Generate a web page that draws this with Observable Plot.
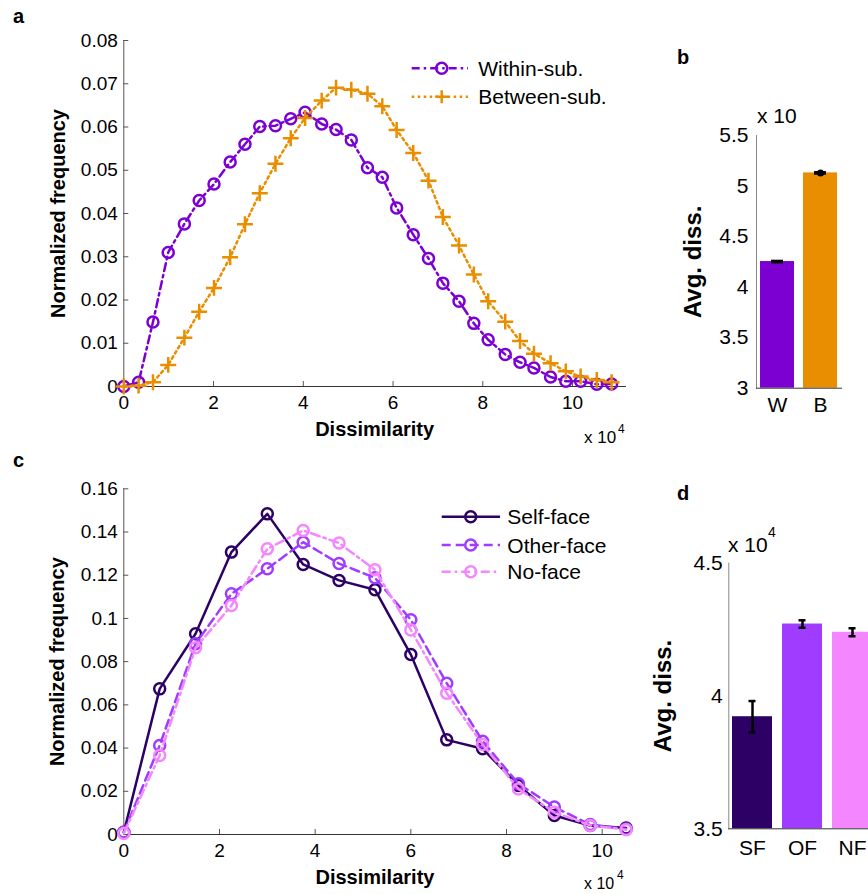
<!DOCTYPE html>
<html><head><meta charset="utf-8">
<script src="https://cdn.jsdelivr.net/npm/d3@7"></script>
<script src="https://cdn.jsdelivr.net/npm/@observablehq/plot@0.6"></script>
<style>
html,body{margin:0;padding:0;background:#fff;overflow:hidden}
#fig{position:relative;width:868px;height:894px;overflow:hidden;background:#fff}
#fig svg{position:absolute}
</style></head><body><div id="fig"></div>
<script>
// ---------- data ----------
// panel a
const aDiss = [0,0.33,0.65,0.99,1.35,1.68,2.01,2.37,2.70,3.03,3.38,3.72,4.04,4.41,4.73,5.07,5.43,5.76,6.08,6.45,6.79,7.11,7.47,7.80,8.12,8.50,8.83,9.14,9.51,9.85,10.18,10.54,10.87];
const withinSub = [0,0.001,0.0149,0.031,0.0376,0.043,0.0468,0.0519,0.056,0.0601,0.0603,0.0619,0.0634,0.0607,0.0594,0.057,0.0506,0.0484,0.0413,0.0351,0.0296,0.0239,0.0197,0.0146,0.0108,0.0074,0.0056,0.0043,0.0022,0.0012,0.0012,0.0005,0.0006];
const betweenSub = [0,0.0002,0.001,0.005,0.0113,0.0173,0.0228,0.0299,0.0375,0.0447,0.0515,0.0574,0.0621,0.0661,0.0691,0.0686,0.0677,0.0648,0.0593,0.054,0.0476,0.0392,0.0326,0.0259,0.0197,0.015,0.0105,0.0076,0.0054,0.0035,0.0023,0.0015,0.001];
const aXTicks = [0,2,4,6,8,10];
const aYTicks = [0,0.01,0.02,0.03,0.04,0.05,0.06,0.07,0.08];
// panel b
const bCats = ["W","B"];
const bMeans = [4.253,5.13];
const bErr = [0.006,0.006];
const bYTicks = [3,3.5,4,4.5,5,5.5];
// panel c
const cDiss = [0,0.75,1.5,2.25,3,3.75,4.5,5.25,6,6.75,7.5,8.25,9,9.75,10.5];
const selfFace = [0.001,0.0674,0.0929,0.1307,0.1484,0.125,0.1176,0.1133,0.0833,0.0438,0.0397,0.0227,0.0088,0.0042,0.0030];
const otherFace = [0.001,0.0412,0.0883,0.1114,0.123,0.1353,0.1254,0.1188,0.0994,0.07,0.0432,0.0235,0.0127,0.0046,0.0026];
const noFace = [0.0005,0.0366,0.0864,0.106,0.1322,0.1407,0.1349,0.1225,0.0947,0.0654,0.0417,0.0211,0.0103,0.0042,0.0022];
const cXTicks = [0,2,4,6,8,10];
const cYTicks = [0,0.02,0.04,0.06,0.08,0.1,0.12,0.14,0.16];
// panel d
const dCats = ["SF","OF","NF"];
const dMeans = [3.922,4.271,4.240];
const dErr = [0.059,0.014,0.015];
const dYTicks = [3.5,4,4.5];

// ---------- styles ----------
const fam = '"Liberation Sans", Arial, Helvetica, sans-serif';
const cW = "#7C00D2", cB = "#E88E00";
const cSF = "#2D0066", cOF = "#A03CFF", cNF = "#F486FF";
const axL = "#555", axB = "#333";
const fig = document.getElementById("fig");
function place(el, left, top){ el.style.left = left + "px"; el.style.top = top + "px"; fig.appendChild(el); }
const fmt = d => String(+d.toFixed(4));
const yLabel = (s, dx, size) => Plot.text([s],{text:d=>d, frameAnchor:"left", textAnchor:"middle", lineAnchor:"middle", dx, rotate:-90, fontWeight:"bold", fontSize:size});
const xLabel = (s, dy, size) => Plot.text([s],{text:d=>d, frameAnchor:"bottom", textAnchor:"middle", lineAnchor:"middle", dy, fontWeight:"bold", fontSize:size});

// ---------- panel a ----------
{
  const P = {w:640,h:460,ml:123.3,mr:15,mt:40,mb:74};
  const iw = P.w-P.ml-P.mr, ih = P.h-P.mt-P.mb;
  const data = aDiss.map((x,i)=>({x, w: withinSub[i], b: betweenSub[i]}));
  const p = Plot.plot({
    width:P.w, height:P.h, marginLeft:P.ml, marginRight:P.mr, marginTop:P.mt, marginBottom:P.mb,
    style:{fontFamily:fam, fontSize:"19px", color:"#000", background:"transparent", overflow:"visible", maxWidth:"none"},
    x:{domain:[0,11.18]}, y:{domain:[0,0.08]},
    marks:[
      Plot.frame({anchor:"left", stroke:axL}),
      Plot.frame({anchor:"bottom", stroke:axB}),
      Plot.tickX(aXTicks,{x:d=>d, insetTop:ih-5, stroke:axL}),
      Plot.tickY(aYTicks,{y:d=>d, insetRight:iw-5, stroke:axL}),
      Plot.axisX({ticks:aXTicks, tickSize:0, tickPadding:9, tickFormat:fmt, label:null}),
      Plot.axisY({ticks:aYTicks, tickSize:0, tickPadding:6, tickFormat:fmt, label:null}),
      Plot.line(data,{x:"x",y:"w",stroke:cW,strokeWidth:2.5,strokeDasharray:"8 4 2.5 4"}),
      Plot.dot(data,{x:"x",y:"w",r:5.5,stroke:cW,strokeWidth:2.5,fill:"none"}),
      Plot.line(data,{x:"x",y:"b",stroke:cB,strokeWidth:2.5,strokeDasharray:"2.5 3.5"}),
      Plot.dot(data,{x:"x",y:"b",symbol:"plus",r:5.2,stroke:cB,strokeWidth:2.5}),
      yLabel("Normalized frequency", -65.5, 20),
      xLabel("Dissimilarity", 43, 20)
    ]
  });
  place(p, 0, 0);
}

// ---------- panel c ----------
{
  const P = {w:640,h:454,ml:123.3,mr:14.4,mt:48.3,mb:60};
  const iw = P.w-P.ml-P.mr, ih = P.h-P.mt-P.mb;
  const data = cDiss.map((x,i)=>({x, s: selfFace[i], o: otherFace[i], n: noFace[i]}));
  const p = Plot.plot({
    width:P.w, height:P.h, marginLeft:P.ml, marginRight:P.mr, marginTop:P.mt, marginBottom:P.mb,
    style:{fontFamily:fam, fontSize:"19px", color:"#000", background:"transparent", overflow:"visible", maxWidth:"none"},
    x:{domain:[0,10.5]}, y:{domain:[0,0.16]},
    marks:[
      Plot.frame({anchor:"left", stroke:axL}),
      Plot.frame({anchor:"bottom", stroke:axB}),
      Plot.tickX(cXTicks,{x:d=>d, insetTop:ih-5, stroke:axL}),
      Plot.tickY(cYTicks,{y:d=>d, insetRight:iw-5, stroke:axL}),
      Plot.axisX({ticks:cXTicks, tickSize:0, tickPadding:9, tickFormat:fmt, label:null}),
      Plot.axisY({ticks:cYTicks, tickSize:0, tickPadding:6, tickFormat:fmt, label:null}),
      Plot.line(data,{x:"x",y:"s",stroke:cSF,strokeWidth:2.5}),
      Plot.dot(data,{x:"x",y:"s",r:5.5,stroke:cSF,strokeWidth:2.5,fill:"none"}),
      Plot.line(data,{x:"x",y:"o",stroke:cOF,strokeWidth:2.5,strokeDasharray:"9 5"}),
      Plot.dot(data,{x:"x",y:"o",r:5.5,stroke:cOF,strokeWidth:2.5,fill:"none"}),
      Plot.line(data,{x:"x",y:"n",stroke:cNF,strokeWidth:2.5,strokeDasharray:"9 4 2.5 4"}),
      Plot.dot(data,{x:"x",y:"n",r:5.5,stroke:cNF,strokeWidth:2.5,fill:"none"}),
      yLabel("Normalized frequency", -66, 20),
      xLabel("Dissimilarity", 43, 20)
    ]
  });
  place(p, 0, 440);
}

// ---------- panel b ----------
{
  const P = {w:228,h:320,ml:116,mr:27,mt:35,mb:32.3};
  const data = bCats.map((c,i)=>({c, m:bMeans[i], e:bErr[i]}));
  const y0 = bYTicks[0];
  const p = Plot.plot({
    width:P.w, height:P.h, marginLeft:P.ml, marginRight:P.mr, marginTop:P.mt, marginBottom:P.mb,
    style:{fontFamily:fam, fontSize:"21px", color:"#000", background:"transparent", overflow:"visible", maxWidth:"none"},
    x:{type:"band", domain:bCats, paddingInner:0.2, paddingOuter:0.077},
    y:{domain:[3,5.5]},
    color:{domain:bCats, range:[cW,cB]},
    marks:[
      Plot.barY(data,{x:"c", y1:y0, y2:"m", fill:"c"}),
      Plot.frame({anchor:"left", stroke:"#888"}),
      Plot.frame({anchor:"bottom", stroke:axB}),
      Plot.ruleX(data,{x:"c", y1:d=>d.m-d.e, y2:d=>d.m+d.e, stroke:"#000", strokeWidth:2.5}),
      Plot.tickY(data,{x:"c", y:d=>d.m-d.e, inset:11, stroke:"#000", strokeWidth:2.5}),
      Plot.tickY(data,{x:"c", y:d=>d.m+d.e, inset:11, stroke:"#000", strokeWidth:2.5}),
      Plot.dot(data.filter(d=>d.c==="B"),{x:"c", y:"m", r:3.5, fill:"#000"}),
      Plot.axisX({tickSize:0, tickPadding:9, label:null}),
      Plot.axisY({ticks:bYTicks, tickSize:0, tickPadding:8, tickFormat:fmt, label:null}),
      yLabel("Avg. diss.", -63, 24)
    ]
  });
  place(p, 640, 100);
}

// ---------- panel d ----------
{
  const P = {w:240,h:374,ml:88.3,mr:5.2,mt:42.7,mb:65.7};
  const data = dCats.map((c,i)=>({c, m:dMeans[i], e:dErr[i]}));
  const y0 = dYTicks[0];
  const p = Plot.plot({
    width:P.w, height:P.h, marginLeft:P.ml, marginRight:P.mr, marginTop:P.mt, marginBottom:P.mb,
    style:{fontFamily:fam, fontSize:"21px", color:"#000", background:"transparent", overflow:"visible", maxWidth:"none"},
    x:{type:"band", domain:dCats, paddingInner:0.2, paddingOuter:0.05},
    y:{domain:[3.5,4.5]},
    color:{domain:dCats, range:[cSF,cOF,cNF]},
    marks:[
      Plot.barY(data,{x:"c", y1:y0, y2:"m", fill:"c"}),
      Plot.frame({anchor:"left", stroke:"#888"}),
      Plot.frame({anchor:"bottom", stroke:axB}),
      Plot.ruleX(data,{x:"c", y1:d=>d.m-d.e, y2:d=>d.m+d.e, stroke:"#000", strokeWidth:2.5}),
      Plot.tickY(data,{x:"c", y:d=>d.m-d.e, inset:16.5, stroke:"#000", strokeWidth:2.5}),
      Plot.tickY(data,{x:"c", y:d=>d.m+d.e, inset:16.5, stroke:"#000", strokeWidth:2.5}),
      Plot.axisX({tickSize:0, tickPadding:11, label:null}),
      Plot.axisY({ticks:dYTicks, tickSize:0, tickPadding:6, tickFormat:fmt, label:null}),
      yLabel("Avg. diss.", -65.3, 24)
    ]
  });
  place(p, 640, 520);
}

// ---------- overlay: panel letters, exponents, legends ----------
{
  const svg = d3.create("svg").attr("width",868).attr("height",894)
    .style("left","0px").style("top","0px").style("pointer-events","none")
    .attr("font-family", fam);
  const T = (x,y,s,size,weight)=>svg.append("text").attr("x",x).attr("y",y).attr("font-size",size).attr("font-weight",weight||"normal").attr("fill","#000").text(s);
  T(13,23,"a",20,"bold"); T(677,64,"b",20,"bold");
  T(13,467,"c",20,"bold"); T(677,500,"d",20,"bold");
  // exponent labels
  T(584,443,"x 10",17); T(618,433,"4",12);
  T(584,889,"x 10",16); T(617,879,"4",12);
  T(757,123,"x 10",21);
  T(728,552,"x 10",21); T(768,537,"4",14);

  const plusPath = "M-6.5,0H6.5M0,-6.5V6.5";
  function legend(rows, x1, x2, xm, xt){
    rows.forEach(r=>{
      svg.append("line").attr("x1",x1).attr("x2",x2).attr("y1",r.y).attr("y2",r.y)
        .attr("stroke",r.color).attr("stroke-width",2.5).attr("stroke-dasharray",r.dash||null);
      if (r.marker==="plus") svg.append("path").attr("d",plusPath).attr("transform",`translate(${xm},${r.y})`)
        .attr("stroke",r.color).attr("stroke-width",2.5).attr("fill","none");
      else svg.append("circle").attr("cx",xm).attr("cy",r.y).attr("r",5.5)
        .attr("stroke",r.color).attr("stroke-width",2.5).attr("fill","none");
      T(xt, r.y+7.5, r.label, 21);
    });
  }
  legend([
    {y:68.3, color:cW, dash:"8 4 2.5 4", marker:"circle", label:"Within-sub."},
    {y:96.7, color:cB, dash:"2.5 3.5", marker:"plus", label:"Between-sub."}
  ], 411.7, 468, 441.7, 478.3);
  legend([
    {y:516.7, color:cSF, dash:null, marker:"circle", label:"Self-face"},
    {y:545, color:cOF, dash:"9 5", marker:"circle", label:"Other-face"},
    {y:571.7, color:cNF, dash:"9 4 2.5 4", marker:"circle", label:"No-face"}
  ], 441.7, 500, 470.7, 507.3);
  fig.appendChild(svg.node());
}
</script></body></html>
